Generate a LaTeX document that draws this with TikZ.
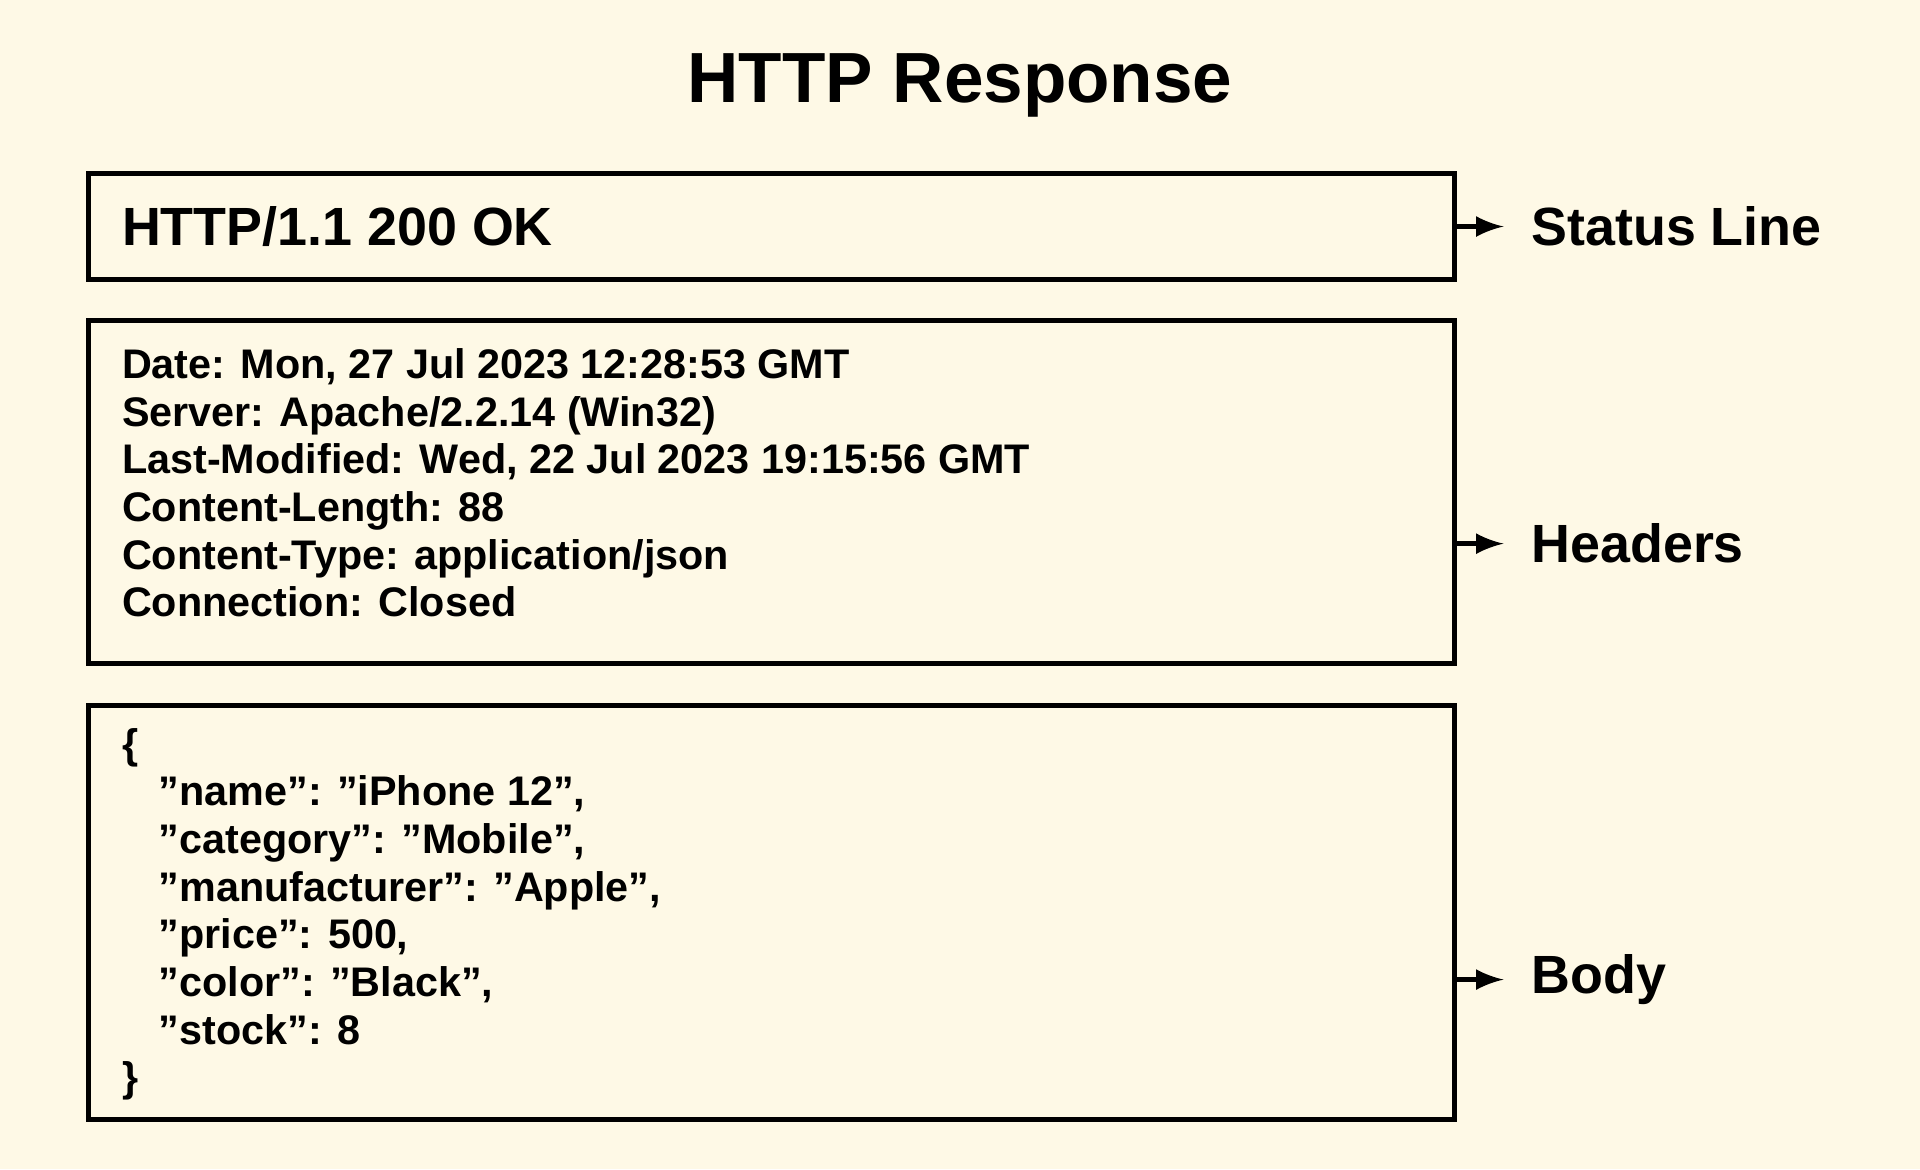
\documentclass[tikz,border=0pt]{standalone}
\usepackage{fontspec}
\setmainfont{Liberation Sans}
\definecolor{cream}{HTML}{FEF9E6}
\tikzset{
  section/.style={draw, line width=1.2pt},
  content/.style={anchor=north west, align=left, inner sep=0pt, font=\bfseries\fontsize{9.6}{11.07}\selectfont},
  partlabel/.style={anchor=west, inner sep=0pt, font=\bfseries\fontsize{12.5}{14}\selectfont},
}
\begin{document}
\begin{tikzpicture}[>=latex, x=0.01cm, y=-0.01cm]
    \fill[cream] (0,0) rectangle (1568,955);
    \useasboundingbox (0,0) rectangle (1568,955);
    % Title
    \node[font=\bfseries\fontsize{16.5}{18}\selectfont] (title) at (784,70) {HTTP Response};
    % Status line
    \draw[section] (72,142) rectangle (1188,228);
    \coordinate (statusend) at (1188,185);
    \node[anchor=west, inner sep=0pt, font=\bfseries\fontsize{12.5}{14}\selectfont] (status) at (99,185) {HTTP/1.1 200 OK};
    % Headers
    \draw[section] (72,262) rectangle (1188,542);
    \coordinate (headersend) at (1188,444);
    \node[content] (headers) at (99,284) {Date: Mon, 27 Jul 2023 12:28:53 GMT\\
      Server: Apache/2.2.14 (Win32)\\
      Last-Modified: Wed, 22 Jul 2023 19:15:56 GMT\\
      Content-Length: 88\\
      Content-Type: application/json\\
      Connection: Closed};
    % Body
    \draw[section] (72,576) rectangle (1188,914);
    \coordinate (bodyend) at (1188,800);
    \node[content] (body) at (99,594) {\{\\
      \hspace{0.3cm}"name": "iPhone 12",\\
      \hspace{0.3cm}"category": "Mobile",\\
      \hspace{0.3cm}"manufacturer": "Apple",\\
      \hspace{0.3cm}"price": 500,\\
      \hspace{0.3cm}"color": "Black",\\
      \hspace{0.3cm}"stock": 8\\
      \}};
    % Labels
    \node[partlabel] (statuslbl) at (1250,185) {Status Line};
    \node[partlabel] (headerslbl) at (1250,444) {Headers};
    \node[partlabel] (bodylbl) at (1250,800) {Body};
    % Arrows
    \draw[->, line width=1.2pt] (statusend) -- ++(40,0);
    \draw[->, line width=1.2pt] (headersend) -- ++(40,0);
    \draw[->, line width=1.2pt] (bodyend) -- ++(40,0);
\end{tikzpicture}
\end{document}
